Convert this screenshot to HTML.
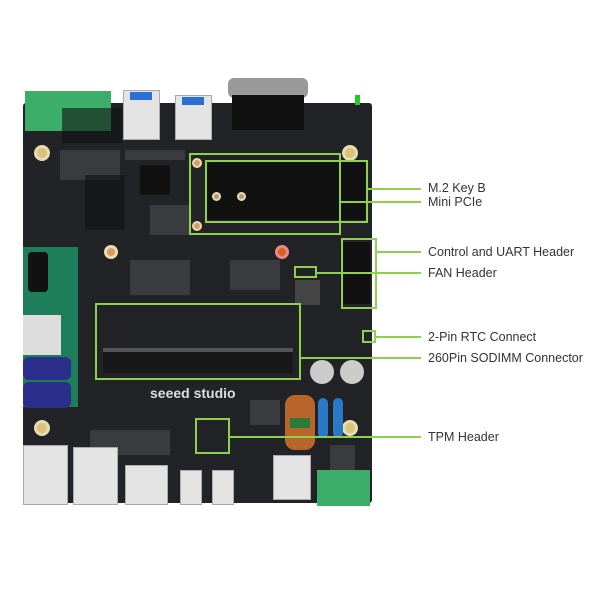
<!DOCTYPE html>
<html><head><style>
body{margin:0;width:600px;height:600px;background:#fff;position:relative;overflow:hidden;font-family:"Liberation Sans",sans-serif}
div{position:absolute;box-sizing:border-box}
.b{border:2px solid #8fd14f}
.l{height:2px;background:#8fd14f}
.t{font-size:12.5px;color:#333;white-space:nowrap}
.h{border-radius:50%;background:#d9c27a;border:3px solid #e8dcb0}
.c{background:#111}
.s{background:#e4e4e4;border:1px solid #aaa}
.g{background:#3a3b3f}
</style></head><body>
<!-- board -->
<div style="left:23px;top:103px;width:349px;height:400px;background:#222326;border-radius:3px"></div>
<!-- texture -->
<div class="g" style="left:125px;top:150px;width:60px;height:10px"></div>
<div class="g" style="left:60px;top:150px;width:60px;height:30px"></div>
<div class="g" style="left:150px;top:205px;width:40px;height:30px"></div>
<div class="g" style="left:230px;top:260px;width:50px;height:30px"></div>
<div class="g" style="left:130px;top:260px;width:60px;height:35px"></div>
<div class="g" style="left:90px;top:430px;width:80px;height:25px"></div>
<div class="g" style="left:240px;top:95px;width:65px;height:0px"></div>
<div class="g" style="left:250px;top:400px;width:30px;height:25px"></div>
<div class="g" style="left:330px;top:445px;width:25px;height:25px"></div>
<!-- top connectors -->
<div style="left:25px;top:91px;width:86px;height:40px;background:#3cae6a"></div>
<div class="s" style="left:123px;top:90px;width:37px;height:50px"></div>
<div style="left:130px;top:92px;width:22px;height:8px;background:#2a6fd6"></div>
<div class="s" style="left:175px;top:95px;width:37px;height:45px"></div>
<div style="left:182px;top:97px;width:22px;height:8px;background:#2a6fd6"></div>
<div style="left:228px;top:78px;width:80px;height:20px;background:#999;border-radius:6px"></div>
<div style="left:232px;top:95px;width:72px;height:35px;background:#111"></div>
<div style="left:355px;top:95px;width:5px;height:10px;background:#2c2"></div>
<!-- holes -->
<div class="h" style="left:34px;top:145px;width:16px;height:16px"></div>
<div class="h" style="left:342px;top:145px;width:16px;height:16px"></div>
<div class="h" style="left:34px;top:420px;width:16px;height:16px"></div>
<div class="h" style="left:342px;top:420px;width:16px;height:16px"></div>
<div class="h" style="left:104px;top:245px;width:14px;height:14px;background:#d99a6a"></div>
<div class="h" style="left:275px;top:245px;width:14px;height:14px;background:#d86020;border-color:#e88"></div>
<!-- chips -->
<div class="c" style="left:62px;top:108px;width:60px;height:35px;opacity:.6"></div>
<div class="c" style="left:85px;top:175px;width:40px;height:55px;opacity:.6"></div>
<div class="c" style="left:140px;top:165px;width:30px;height:30px"></div>
<div class="c" style="left:295px;top:280px;width:25px;height:25px;background:#444"></div>
<div class="c" style="left:340px;top:242px;width:30px;height:62px"></div>
<div class="c" style="left:340px;top:162px;width:26px;height:58px"></div>
<!-- M.2 module area -->
<div style="left:205px;top:160px;width:135px;height:60px;background:#111"></div>
<div class="h" style="left:212px;top:192px;width:9px;height:9px;background:#a98;border-width:2px"></div>
<div class="h" style="left:237px;top:192px;width:9px;height:9px;background:#a98;border-width:2px"></div>
<div class="h" style="left:192px;top:158px;width:10px;height:10px;background:#d99a6a;border-width:2px"></div>
<div class="h" style="left:192px;top:221px;width:10px;height:10px;background:#d99a6a;border-width:2px"></div>
<!-- green daughter board -->
<div style="left:23px;top:247px;width:55px;height:160px;background:#1e7d5a"></div>
<div style="left:28px;top:252px;width:20px;height:40px;background:#111;border-radius:4px"></div>
<div style="left:23px;top:315px;width:38px;height:40px;background:#ddd"></div>
<div style="left:23px;top:357px;width:48px;height:23px;background:#2b2e8a;border-radius:6px"></div>
<div style="left:23px;top:382px;width:48px;height:26px;background:#2b2e8a;border-radius:6px"></div>
<!-- SODIMM slot -->
<div style="left:103px;top:348px;width:190px;height:25px;background:#181818;border-top:4px solid #555"></div>
<div style="left:150px;top:385px;color:#ddd;font-size:14px;font-weight:bold">seeed studio</div>
<!-- caps -->
<div style="left:310px;top:360px;width:24px;height:24px;border-radius:50%;background:#ccc"></div>
<div style="left:340px;top:360px;width:24px;height:24px;border-radius:50%;background:#ccc"></div>
<div style="left:285px;top:395px;width:30px;height:55px;background:#b8652a;border-radius:10px"></div>
<div style="left:290px;top:418px;width:20px;height:10px;background:#2a7a3a"></div>
<div style="left:318px;top:398px;width:10px;height:40px;background:#2a78c8;border-radius:5px"></div>
<div style="left:333px;top:398px;width:10px;height:40px;background:#2a78c8;border-radius:5px"></div>
<!-- bottom connectors -->
<div class="s" style="left:23px;top:445px;width:45px;height:60px"></div>
<div class="s" style="left:73px;top:447px;width:45px;height:58px"></div>
<div class="s" style="left:125px;top:465px;width:43px;height:40px"></div>
<div class="s" style="left:180px;top:470px;width:22px;height:35px"></div>
<div class="s" style="left:212px;top:470px;width:22px;height:35px"></div>
<div class="s" style="left:273px;top:455px;width:38px;height:45px"></div>
<div style="left:317px;top:470px;width:53px;height:36px;background:#3cae6a"></div>
<!-- callout boxes -->
<div class="b" style="left:189px;top:153px;width:152px;height:82px"></div>
<div class="b" style="left:205px;top:160px;width:163px;height:63px"></div>
<div class="b" style="left:341px;top:238px;width:36px;height:71px"></div>
<div class="b" style="left:294px;top:266px;width:23px;height:12px"></div>
<div class="b" style="left:362px;top:330px;width:14px;height:13px"></div>
<div class="b" style="left:95px;top:303px;width:206px;height:77px"></div>
<div class="b" style="left:195px;top:418px;width:35px;height:36px"></div>
<!-- lines -->
<div class="l" style="left:368px;top:188px;width:53px"></div>
<div class="l" style="left:340px;top:201px;width:81px"></div>
<div class="l" style="left:377px;top:251px;width:44px"></div>
<div class="l" style="left:317px;top:272px;width:104px"></div>
<div class="l" style="left:376px;top:336px;width:45px"></div>
<div class="l" style="left:301px;top:357px;width:120px"></div>
<div class="l" style="left:230px;top:436px;width:191px"></div>
<!-- labels -->
<div class="t" style="left:428px;top:181px">M.2 Key B</div>
<div class="t" style="left:428px;top:195px">Mini PCIe</div>
<div class="t" style="left:428px;top:245px">Control and UART Header</div>
<div class="t" style="left:428px;top:266px">FAN Header</div>
<div class="t" style="left:428px;top:330px">2-Pin RTC Connect</div>
<div class="t" style="left:428px;top:351px">260Pin SODIMM Connector</div>
<div class="t" style="left:428px;top:430px">TPM Header</div>
</body></html>
